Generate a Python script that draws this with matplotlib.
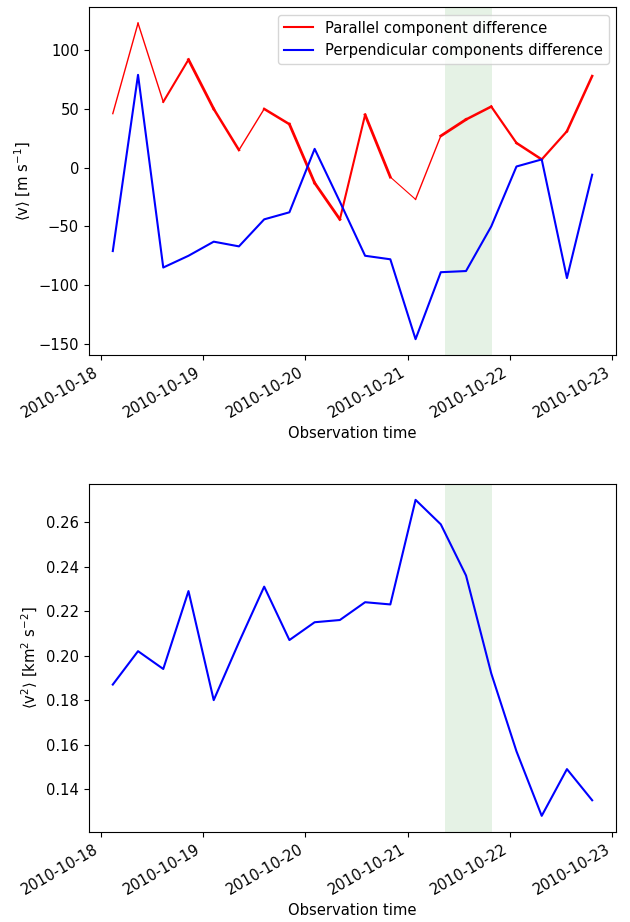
import matplotlib
matplotlib.use("Agg")
import matplotlib.pyplot as plt
import matplotlib.dates as mdates
import pandas as pd

plt.rcParams["font.size"] = 10.6

times = pd.to_datetime([
    "2010-10-18 02:50", "2010-10-18 08:45", "2010-10-18 14:40", "2010-10-18 20:35",
    "2010-10-19 02:30", "2010-10-19 08:25", "2010-10-19 14:20", "2010-10-19 20:15",
    "2010-10-20 02:10", "2010-10-20 08:05", "2010-10-20 14:00", "2010-10-20 19:55",
    "2010-10-21 01:50", "2010-10-21 07:45", "2010-10-21 13:40", "2010-10-21 19:35",
    "2010-10-22 01:30", "2010-10-22 07:25", "2010-10-22 13:20", "2010-10-22 19:15",
])

# mean velocity differences [m/s]
parallel = [46, 123, 56, 92, 50, 15, 50, 37, -13, -44,
            45, -8, -27, 27, 41, 52, 21, 7, 31, 78]
perpendicular = [-71, 79, -85, -75, -63, -67, -44, -38, 16, -29,
                 -75, -78, -146, -89, -88, -50, 1, 7, -94, -6]

# mean squared velocity [km^2/s^2]
v2 = [0.187, 0.202, 0.194, 0.229, 0.180, 0.206, 0.231, 0.207, 0.215, 0.216,
      0.224, 0.223, 0.270, 0.259, 0.236, 0.192, 0.157, 0.128, 0.149, 0.135]

# highlighted event window
span_start = pd.Timestamp("2010-10-21 08:45")
span_end = pd.Timestamp("2010-10-21 19:50")

# line width of each red segment
seg_widths = [1.0, 1.0, 1.5, 2.0, 1.8, 1.0, 1.8, 2.0, 2.0, 1.5,
              2.0, 0.8, 1.0, 2.0, 1.8, 1.6, 1.8, 1.6, 1.8]

fig = plt.figure(figsize=(6.3, 9.22), dpi=100)
ax1 = fig.add_axes([0.141, 0.615, 0.837, 0.377])
ax2 = fig.add_axes([0.141, 0.098, 0.837, 0.377])

for i, w in enumerate(seg_widths):
    ax1.plot(times[i:i + 2], parallel[i:i + 2], color="red", lw=w)
ax1.plot([], [], color="red", lw=1.5, label="Parallel component difference")
ax1.plot(times, perpendicular, color="blue", lw=1.5,
         label="Perpendicular components difference")
ax1.axvspan(span_start, span_end, color="g", alpha=0.1, lw=0)
ax1.set_ylabel(r"$\langle\mathrm{v}\rangle$ [m s$^{-1}$]")
ax1.set_xlabel("Observation time")
ax1.legend(loc="upper right")

ax2.plot(times, v2, color="blue", lw=1.5)
ax2.axvspan(span_start, span_end, color="g", alpha=0.1, lw=0)
ax2.set_ylabel(r"$\langle\mathrm{v}^2\rangle$ [km$^2$ s$^{-2}$]")
ax2.set_xlabel("Observation time")

for ax in (ax1, ax2):
    ax.xaxis.set_major_locator(mdates.DayLocator())
    ax.xaxis.set_major_formatter(mdates.DateFormatter("%Y-%m-%d"))
    for lbl in ax.get_xticklabels():
        lbl.set_rotation(30)
        lbl.set_ha("right")

fig.savefig("out.png", dpi=100)
